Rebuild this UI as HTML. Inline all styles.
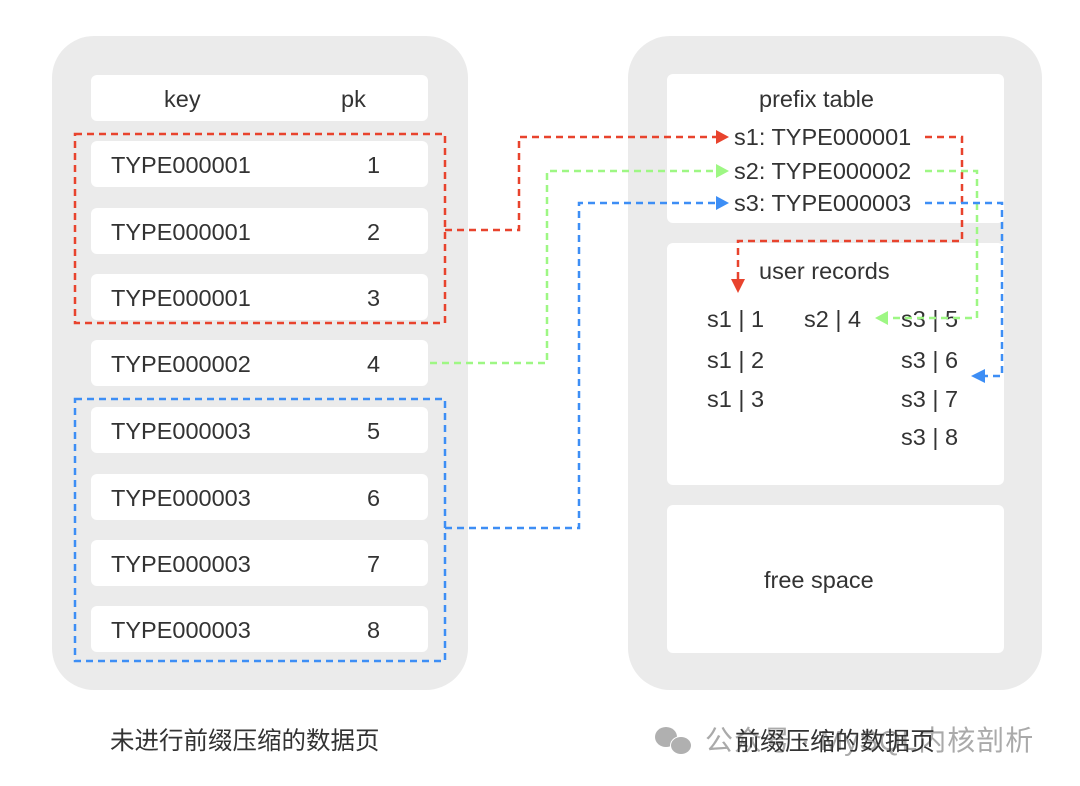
<!DOCTYPE html>
<html><head><meta charset="utf-8"><style>
body{margin:0;width:1080px;height:786px;background:#fff;position:relative;overflow:hidden;font-family:"Liberation Sans","Noto Sans CJK SC",sans-serif;color:#333}
.c{position:absolute;background:#ebebeb;border-radius:42px}
.b{position:absolute;background:#fff;border-radius:6px}
.t{position:absolute;font-size:23.5px;line-height:26px;white-space:nowrap}
svg{position:absolute;left:0;top:0}
</style></head><body>
<div class="c" style="left:52px;top:36px;width:416px;height:654px"></div>
<div class="c" style="left:628px;top:36px;width:414px;height:654px"></div>
<div class="b" style="left:91px;top:75px;width:337px;height:46px"></div>
<div class="b" style="left:91px;top:141px;width:337px;height:46px"></div>
<div class="b" style="left:91px;top:208px;width:337px;height:46px"></div>
<div class="b" style="left:91px;top:274px;width:337px;height:46px"></div>
<div class="b" style="left:91px;top:340px;width:337px;height:46px"></div>
<div class="b" style="left:91px;top:407px;width:337px;height:46px"></div>
<div class="b" style="left:91px;top:474px;width:337px;height:46px"></div>
<div class="b" style="left:91px;top:540px;width:337px;height:46px"></div>
<div class="b" style="left:91px;top:606px;width:337px;height:46px"></div>
<div class="b" style="left:667px;top:74px;width:337px;height:149px"></div>
<div class="b" style="left:667px;top:243px;width:337px;height:242px"></div>
<div class="b" style="left:667px;top:505px;width:337px;height:148px"></div>
<div class="t" style="left:164px;top:86px">key</div>
<div class="t" style="left:341px;top:86px">pk</div>
<div class="t" style="left:111px;top:152px">TYPE000001</div><div class="t" style="left:367px;top:152px">1</div>
<div class="t" style="left:111px;top:219px">TYPE000001</div><div class="t" style="left:367px;top:219px">2</div>
<div class="t" style="left:111px;top:285px">TYPE000001</div><div class="t" style="left:367px;top:285px">3</div>
<div class="t" style="left:111px;top:351px">TYPE000002</div><div class="t" style="left:367px;top:351px">4</div>
<div class="t" style="left:111px;top:418px">TYPE000003</div><div class="t" style="left:367px;top:418px">5</div>
<div class="t" style="left:111px;top:485px">TYPE000003</div><div class="t" style="left:367px;top:485px">6</div>
<div class="t" style="left:111px;top:551px">TYPE000003</div><div class="t" style="left:367px;top:551px">7</div>
<div class="t" style="left:111px;top:617px">TYPE000003</div><div class="t" style="left:367px;top:617px">8</div>
<div class="t" style="left:759px;top:86px">prefix table</div>
<div class="t" style="left:734px;top:124px">s1: TYPE000001</div>
<div class="t" style="left:734px;top:158px">s2: TYPE000002</div>
<div class="t" style="left:734px;top:190px">s3: TYPE000003</div>
<div class="t" style="left:759px;top:258px">user records</div>
<div class="t" style="left:707px;top:306px">s1 | 1</div>
<div class="t" style="left:707px;top:347px">s1 | 2</div>
<div class="t" style="left:707px;top:386px">s1 | 3</div>
<div class="t" style="left:804px;top:306px">s2 | 4</div>
<div class="t" style="left:901px;top:306px">s3 | 5</div>
<div class="t" style="left:901px;top:347px">s3 | 6</div>
<div class="t" style="left:901px;top:386px">s3 | 7</div>
<div class="t" style="left:901px;top:424px">s3 | 8</div>
<div class="t" style="left:764px;top:567px">free space</div>
<div class="t" style="left:110px;top:729px;font-size:24.5px">未进行前缀压缩的数据页</div>
<div class="t" style="left:705px;top:728px;color:#aaa;font-size:28px;letter-spacing:1px">公众号 · MySQL内核剖析</div>
<div style="position:absolute;left:655px;top:727px;width:22px;height:20px;border-radius:50%;background:#b0b0b0"></div>
<div style="position:absolute;left:670px;top:736px;width:20px;height:17px;border-radius:50%;background:#b0b0b0;border:1px solid #fff"></div>
<div class="t" style="left:735px;top:729px;font-size:25px">前缀压缩的数据页</div>
<svg width="1080" height="786" fill="none" stroke-width="2.5" stroke-dasharray="7,5">
<rect x="75" y="134" width="370" height="189" stroke="#e8432d"/>
<rect x="75" y="399" width="370" height="262" stroke="#3d8ef5"/>
<polyline points="445,230 519,230 519,137 716,137" stroke="#e8432d"/>
<polyline points="925,137 962,137 962,241 738,241 738,280" stroke="#e8432d"/>
<polyline points="430,363 547,363 547,171 716,171" stroke="#9ef784"/>
<polyline points="925,171 977,171 977,318 890,318" stroke="#9ef784"/>
<polyline points="445,528 579,528 579,203 716,203" stroke="#3d8ef5"/>
<polyline points="925,203 1002,203 1002,376 985,376" stroke="#3d8ef5"/>
<g stroke="none">
<polygon points="716,130 729,137 716,144" fill="#e8432d"/>
<polygon points="716,164 729,171 716,178" fill="#9ef784"/>
<polygon points="716,196 729,203 716,210" fill="#3d8ef5"/>
<polygon points="731,279 745,279 738,293" fill="#e8432d"/>
<polygon points="888,311 875,318 888,325" fill="#9ef784"/>
<polygon points="985,369 971,376 985,383" fill="#3d8ef5"/>
</g>
</svg>
</body></html>
